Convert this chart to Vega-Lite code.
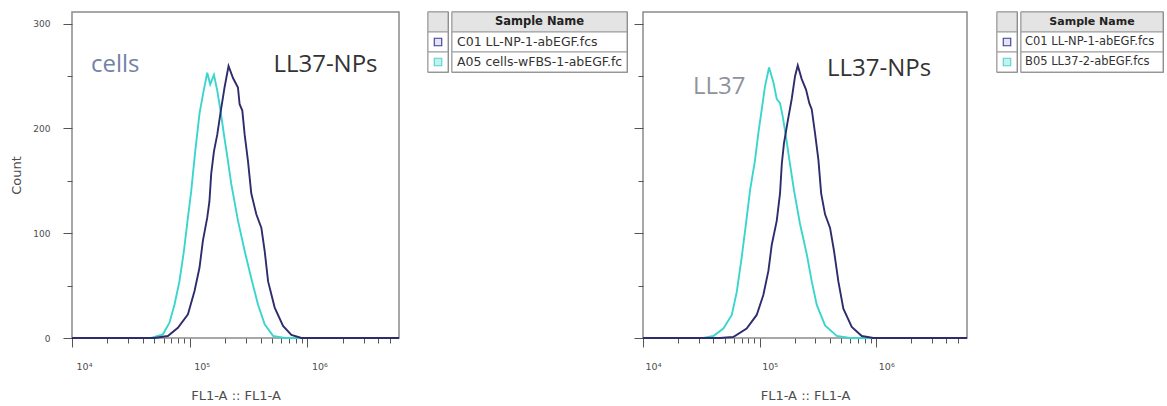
{
  "$schema": "https://vega.github.io/schema/vega-lite/v6.json",
  "padding": {"left": 10, "top": 10, "right": 2, "bottom": 2},
  "background": "white",
  "datasets": {
    "p1": [
      {"sample": "A05", "fl": 10000, "count": 0}, {"sample": "A05", "fl": 47000, "count": 0}, {"sample": "A05", "fl": 59200, "count": 3.5},
      {"sample": "A05", "fl": 67300, "count": 14.6}, {"sample": "A05", "fl": 74300, "count": 32}, {"sample": "A05", "fl": 81800, "count": 54},
      {"sample": "A05", "fl": 89300, "count": 83}, {"sample": "A05", "fl": 96600, "count": 115}, {"sample": "A05", "fl": 103000, "count": 140},
      {"sample": "A05", "fl": 106400, "count": 156}, {"sample": "A05", "fl": 111400, "count": 178}, {"sample": "A05", "fl": 117500, "count": 201},
      {"sample": "A05", "fl": 121100, "count": 214}, {"sample": "A05", "fl": 129400, "count": 232}, {"sample": "A05", "fl": 140900, "count": 253},
      {"sample": "A05", "fl": 149300, "count": 242}, {"sample": "A05", "fl": 160700, "count": 251}, {"sample": "A05", "fl": 171400, "count": 236},
      {"sample": "A05", "fl": 182800, "count": 217}, {"sample": "A05", "fl": 195400, "count": 194}, {"sample": "A05", "fl": 211300, "count": 169},
      {"sample": "A05", "fl": 225400, "count": 147}, {"sample": "A05", "fl": 233300, "count": 138}, {"sample": "A05", "fl": 257000, "count": 112},
      {"sample": "A05", "fl": 293100, "count": 83}, {"sample": "A05", "fl": 333400, "count": 57}, {"sample": "A05", "fl": 380200, "count": 32},
      {"sample": "A05", "fl": 433500, "count": 13}, {"sample": "A05", "fl": 510500, "count": 2}, {"sample": "A05", "fl": 641200, "count": 0},
      {"sample": "A05", "fl": 6000000, "count": 0},
      {"sample": "C01", "fl": 10000, "count": 0}, {"sample": "C01", "fl": 50100, "count": 0}, {"sample": "C01", "fl": 65200, "count": 1.9},
      {"sample": "C01", "fl": 79400, "count": 9.8}, {"sample": "C01", "fl": 96600, "count": 22.6}, {"sample": "C01", "fl": 109900, "count": 44.8},
      {"sample": "C01", "fl": 121100, "count": 67}, {"sample": "C01", "fl": 129400, "count": 92.6}, {"sample": "C01", "fl": 140900, "count": 114.8},
      {"sample": "C01", "fl": 147000, "count": 130}, {"sample": "C01", "fl": 152400, "count": 157}, {"sample": "C01", "fl": 160700, "count": 178},
      {"sample": "C01", "fl": 171400, "count": 194}, {"sample": "C01", "fl": 182800, "count": 215}, {"sample": "C01", "fl": 197700, "count": 239},
      {"sample": "C01", "fl": 213800, "count": 259.5}, {"sample": "C01", "fl": 233300, "count": 248}, {"sample": "C01", "fl": 257000, "count": 239},
      {"sample": "C01", "fl": 265500, "count": 223}, {"sample": "C01", "fl": 279900, "count": 217}, {"sample": "C01", "fl": 293100, "count": 194},
      {"sample": "C01", "fl": 312600, "count": 169}, {"sample": "C01", "fl": 333400, "count": 138}, {"sample": "C01", "fl": 368100, "count": 118},
      {"sample": "C01", "fl": 406400, "count": 105}, {"sample": "C01", "fl": 433500, "count": 83}, {"sample": "C01", "fl": 463400, "count": 54},
      {"sample": "C01", "fl": 527200, "count": 29}, {"sample": "C01", "fl": 620900, "count": 11.5}, {"sample": "C01", "fl": 731100, "count": 2.9},
      {"sample": "C01", "fl": 889200, "count": 0}, {"sample": "C01", "fl": 6000000, "count": 0}
    ],
    "p2": [
      {"sample": "B05", "fl": 10000, "count": 0}, {"sample": "B05", "fl": 32900, "count": 0}, {"sample": "B05", "fl": 40100, "count": 1.9},
      {"sample": "B05", "fl": 48900, "count": 9}, {"sample": "B05", "fl": 57700, "count": 22}, {"sample": "B05", "fl": 63700, "count": 44},
      {"sample": "B05", "fl": 70100, "count": 76.5}, {"sample": "B05", "fl": 76400, "count": 109}, {"sample": "B05", "fl": 82800, "count": 141},
      {"sample": "B05", "fl": 91400, "count": 170}, {"sample": "B05", "fl": 97500, "count": 195.5}, {"sample": "B05", "fl": 104300, "count": 218},
      {"sample": "B05", "fl": 111200, "count": 240}, {"sample": "B05", "fl": 120500, "count": 258}, {"sample": "B05", "fl": 131200, "count": 244},
      {"sample": "B05", "fl": 140300, "count": 228}, {"sample": "B05", "fl": 149600, "count": 224}, {"sample": "B05", "fl": 157800, "count": 211.5},
      {"sample": "B05", "fl": 168300, "count": 192}, {"sample": "B05", "fl": 179900, "count": 170}, {"sample": "B05", "fl": 197000, "count": 141},
      {"sample": "B05", "fl": 221800, "count": 109}, {"sample": "B05", "fl": 253500, "count": 80}, {"sample": "B05", "fl": 279900, "count": 54},
      {"sample": "B05", "fl": 309000, "count": 31.5}, {"sample": "B05", "fl": 363900, "count": 12}, {"sample": "B05", "fl": 458100, "count": 2},
      {"sample": "B05", "fl": 595700, "count": 0}, {"sample": "B05", "fl": 6000000, "count": 0},
      {"sample": "C01", "fl": 10000, "count": 0}, {"sample": "C01", "fl": 45700, "count": 0}, {"sample": "C01", "fl": 59400, "count": 1},
      {"sample": "C01", "fl": 77400, "count": 9}, {"sample": "C01", "fl": 94400, "count": 22}, {"sample": "C01", "fl": 107600, "count": 41},
      {"sample": "C01", "fl": 118900, "count": 64}, {"sample": "C01", "fl": 127100, "count": 89}, {"sample": "C01", "fl": 140300, "count": 112},
      {"sample": "C01", "fl": 149600, "count": 138}, {"sample": "C01", "fl": 154900, "count": 166}, {"sample": "C01", "fl": 161800, "count": 186},
      {"sample": "C01", "fl": 173000, "count": 205}, {"sample": "C01", "fl": 188400, "count": 228}, {"sample": "C01", "fl": 201400, "count": 250},
      {"sample": "C01", "fl": 212300, "count": 260}, {"sample": "C01", "fl": 229600, "count": 247}, {"sample": "C01", "fl": 250000, "count": 237},
      {"sample": "C01", "fl": 266700, "count": 224}, {"sample": "C01", "fl": 279900, "count": 218}, {"sample": "C01", "fl": 298500, "count": 195.5},
      {"sample": "C01", "fl": 319200, "count": 170}, {"sample": "C01", "fl": 337000, "count": 138}, {"sample": "C01", "fl": 363900, "count": 118},
      {"sample": "C01", "fl": 401800, "count": 105}, {"sample": "C01", "fl": 434500, "count": 83}, {"sample": "C01", "fl": 473200, "count": 54},
      {"sample": "C01", "fl": 522400, "count": 28}, {"sample": "C01", "fl": 616600, "count": 10.6}, {"sample": "C01", "fl": 751600, "count": 1.9},
      {"sample": "C01", "fl": 944100, "count": 0}, {"sample": "C01", "fl": 6000000, "count": 0}
    ],
    "a1": [
      {"label": "cells", "fl": 14500, "count": 260},
      {"label": "LL37-NPs", "fl": 514000, "count": 260}
    ],
    "a2": [
      {"label": "LL37", "fl": 26800, "count": 239},
      {"label": "LL37-NPs", "fl": 378000, "count": 257}
    ],
    "l1": [
      {"pos": 0, "kind": "header", "name": "Sample Name"},
      {"pos": 1, "kind": "C01", "name": "C01 LL-NP-1-abEGF.fcs"},
      {"pos": 2, "kind": "A05", "name": "A05 cells-wFBS-1-abEGF.fcs"}
    ],
    "l2": [
      {"pos": 0, "kind": "header", "name": "Sample Name"},
      {"pos": 1, "kind": "C01", "name": "C01 LL-NP-1-abEGF.fcs"},
      {"pos": 2, "kind": "B05", "name": "B05 LL37-2-abEGF.fcs"}
    ]
  },
  "config": {
    "axis": {
      "labelFont": "DejaVu Sans", "labelFontSize": 9, "labelColor": "#4d4d4d",
      "titleFont": "DejaVu Sans", "titleFontSize": 13, "titleFontWeight": "normal", "titleColor": "#4d4d4d",
      "tickColor": "#555555", "tickWidth": 1, "domain": false, "grid": false
    }
  },
  "spacing": 3,
  "hconcat": [
    {
      "spacing": 22,
      "hconcat": [
        {
          "width": 327, "height": 326,
          "view": {"stroke": "#8a8a8a", "strokeWidth": 1.5},
          "layer": [
            {
              "data": {"name": "p1"},
              "transform": [{"filter": "datum.sample == 'A05'"}],
              "mark": {"type": "line", "strokeWidth": 1.9, "color": "#3ad6cd"},
              "encoding": {
                "x": {"field": "fl", "type": "quantitative",
                  "scale": {"type": "log", "domain": [10000, 6000000], "nice": false},
                  "axis": {
                    "values": [10000, 20000, 30000, 40000, 50000, 60000, 70000, 80000, 90000, 100000, 200000, 300000, 400000, 500000, 600000, 700000, 800000, 900000, 1000000, 2000000, 3000000, 4000000, 5000000],
                    "labelExpr": "datum.value == 10000 ? '10⁴' : datum.value == 100000 ? '10⁵' : datum.value == 1000000 ? '10⁶' : ''",
                    "tickSize": {"condition": {"test": "datum.value == 10000 || datum.value == 100000 || datum.value == 1000000", "value": 9}, "value": 5},
                    "labelFontSize": 9.5,
                    "labelPadding": 14, "labelOffset": 12, "labelFlush": false, "labelOverlap": false, "labelBound": false,
                    "title": "FL1-A :: FL1-A", "titlePadding": 19
                  }},
                "y": {"field": "count", "type": "quantitative",
                  "scale": {"domain": [0, 311], "nice": false},
                  "axis": {
                    "values": [0, 25, 50, 75, 100, 125, 150, 175, 200, 225, 250, 275, 300],
                    "labelExpr": "datum.value % 100 == 0 ? datum.label : ''",
                    "tickSize": {"condition": {"test": "datum.value % 100 == 0", "value": 9}, "value": 5},
                    "labelPadding": 13, "labelOverlap": false,
                    "title": "Count", "titlePadding": 9
                  }}
              }
            },
            {
              "data": {"name": "p1"},
              "transform": [{"filter": "datum.sample == 'C01'"}],
              "mark": {"type": "line", "strokeWidth": 1.9, "color": "#2e2c6c"},
              "encoding": {
                "x": {"field": "fl", "type": "quantitative"},
                "y": {"field": "count", "type": "quantitative"}
              }
            },
            {
              "data": {"name": "a1"},
              "mark": {"type": "text", "align": "left", "baseline": "middle", "font": "Open Sans", "fontSize": 24},
              "encoding": {
                "x": {"field": "fl", "type": "quantitative"},
                "y": {"field": "count", "type": "quantitative"},
                "text": {"field": "label"},
                "fill": {"condition": {"test": "datum.label == 'cells'", "value": "#7282a6"}, "value": "#333333"}
              }
            }
          ]
        },
        {
          "spacing": 0,
          "hconcat": [
            {
              "width": 20, "height": 60,
              "data": {"name": "l1"},
              "view": {"stroke": "#6e6e6e", "strokeWidth": 1.3},
              "layer": [
                {
                  "mark": {"type": "rect", "stroke": "#9c9c9c", "strokeWidth": 1},
                  "encoding": {
                    "y": {"field": "pos", "type": "ordinal", "scale": {"paddingInner": 0, "paddingOuter": 0}, "axis": null},
                    "fill": {"condition": {"test": "datum.kind == 'header'", "value": "#e4e4e4"}, "value": "#ffffff"}
                  }
                },
                {
                  "transform": [{"filter": "datum.kind != 'header'"}],
                  "mark": {"type": "square", "size": 56, "opacity": 1, "strokeWidth": 1.1},
                  "encoding": {
                    "y": {"field": "pos", "type": "ordinal", "axis": null},
                    "fill": {"condition": {"test": "datum.kind == 'C01'", "value": "#e4e4f6"}, "value": "#bff3ef"},
                    "stroke": {"condition": {"test": "datum.kind == 'C01'", "value": "#3d3d90"}, "value": "#5ad0ca"}
                  }
                }
              ]
            },
            {
              "width": 175, "height": 60,
              "data": {"name": "l1"},
              "view": {"stroke": "#6e6e6e", "strokeWidth": 1.3},
              "layer": [
                {
                  "mark": {"type": "rect", "stroke": "#9c9c9c", "strokeWidth": 1},
                  "encoding": {
                    "y": {"field": "pos", "type": "ordinal", "scale": {"paddingInner": 0, "paddingOuter": 0}, "axis": null},
                    "fill": {"condition": {"test": "datum.kind == 'header'", "value": "#e4e4e4"}, "value": "#ffffff"}
                  }
                },
                {
                  "transform": [{"filter": "datum.kind == 'header'"}],
                  "mark": {"type": "text", "font": "DejaVu Sans", "fontSize": 11.5, "fontWeight": "bold", "color": "#222222", "baseline": "middle"},
                  "encoding": {
                    "y": {"field": "pos", "type": "ordinal", "axis": null},
                    "text": {"field": "name"}
                  }
                },
                {
                  "transform": [{"filter": "datum.kind != 'header'"}],
                  "mark": {"type": "text", "font": "DejaVu Sans", "fontSize": 12.5, "color": "#333333", "align": "left", "baseline": "middle", "dx": 5, "limit": 169, "ellipsis": "\u200b"},
                  "encoding": {
                    "x": {"datum": 0, "type": "quantitative", "scale": {"domain": [0, 1]}, "axis": null},
                    "y": {"field": "pos", "type": "ordinal", "axis": null},
                    "text": {"field": "name"}
                  }
                }
              ]
            }
          ]
        }
      ]
    },
    {
      "spacing": 23,
      "hconcat": [
        {
          "width": 324, "height": 326,
          "view": {"stroke": "#8a8a8a", "strokeWidth": 1.5},
          "layer": [
            {
              "data": {"name": "p2"},
              "transform": [{"filter": "datum.sample == 'B05'"}],
              "mark": {"type": "line", "strokeWidth": 1.9, "color": "#3ad6cd"},
              "encoding": {
                "x": {"field": "fl", "type": "quantitative",
                  "scale": {"type": "log", "domain": [10000, 6000000], "nice": false},
                  "axis": {
                    "values": [10000, 20000, 30000, 40000, 50000, 60000, 70000, 80000, 90000, 100000, 200000, 300000, 400000, 500000, 600000, 700000, 800000, 900000, 1000000, 2000000, 3000000, 4000000, 5000000],
                    "labelExpr": "datum.value == 10000 ? '10⁴' : datum.value == 100000 ? '10⁵' : datum.value == 1000000 ? '10⁶' : ''",
                    "tickSize": {"condition": {"test": "datum.value == 10000 || datum.value == 100000 || datum.value == 1000000", "value": 9}, "value": 5},
                    "labelFontSize": 9.5,
                    "labelPadding": 14, "labelOffset": 10, "labelFlush": false, "labelOverlap": false, "labelBound": false,
                    "title": "FL1-A :: FL1-A", "titlePadding": 19
                  }},
                "y": {"field": "count", "type": "quantitative",
                  "scale": {"domain": [0, 311], "nice": false},
                  "axis": {
                    "values": [0, 25, 50, 75, 100, 125, 150, 175, 200, 225, 250, 275, 300],
                    "labels": false,
                    "tickSize": {"condition": {"test": "datum.value % 100 == 0", "value": 9}, "value": 5},
                    "title": null
                  }}
              }
            },
            {
              "data": {"name": "p2"},
              "transform": [{"filter": "datum.sample == 'C01'"}],
              "mark": {"type": "line", "strokeWidth": 1.9, "color": "#2e2c6c"},
              "encoding": {
                "x": {"field": "fl", "type": "quantitative"},
                "y": {"field": "count", "type": "quantitative"}
              }
            },
            {
              "data": {"name": "a2"},
              "mark": {"type": "text", "align": "left", "baseline": "middle", "font": "Open Sans", "fontSize": 24},
              "encoding": {
                "x": {"field": "fl", "type": "quantitative"},
                "y": {"field": "count", "type": "quantitative"},
                "text": {"field": "label"},
                "fill": {"condition": {"test": "datum.label == 'LL37'", "value": "#8f929c"}, "value": "#333333"}
              }
            }
          ]
        },
        {
          "spacing": 0,
          "hconcat": [
            {
              "width": 20, "height": 60,
              "data": {"name": "l2"},
              "view": {"stroke": "#6e6e6e", "strokeWidth": 1.3},
              "layer": [
                {
                  "mark": {"type": "rect", "stroke": "#9c9c9c", "strokeWidth": 1},
                  "encoding": {
                    "y": {"field": "pos", "type": "ordinal", "scale": {"paddingInner": 0, "paddingOuter": 0}, "axis": null},
                    "fill": {"condition": {"test": "datum.kind == 'header'", "value": "#e4e4e4"}, "value": "#ffffff"}
                  }
                },
                {
                  "transform": [{"filter": "datum.kind != 'header'"}],
                  "mark": {"type": "square", "size": 56, "opacity": 1, "strokeWidth": 1.1},
                  "encoding": {
                    "y": {"field": "pos", "type": "ordinal", "axis": null},
                    "fill": {"condition": {"test": "datum.kind == 'C01'", "value": "#e4e4f6"}, "value": "#bff3ef"},
                    "stroke": {"condition": {"test": "datum.kind == 'C01'", "value": "#3d3d90"}, "value": "#5ad0ca"}
                  }
                }
              ]
            },
            {
              "width": 142, "height": 60,
              "data": {"name": "l2"},
              "view": {"stroke": "#6e6e6e", "strokeWidth": 1.3},
              "layer": [
                {
                  "mark": {"type": "rect", "stroke": "#9c9c9c", "strokeWidth": 1},
                  "encoding": {
                    "y": {"field": "pos", "type": "ordinal", "scale": {"paddingInner": 0, "paddingOuter": 0}, "axis": null},
                    "fill": {"condition": {"test": "datum.kind == 'header'", "value": "#e4e4e4"}, "value": "#ffffff"}
                  }
                },
                {
                  "transform": [{"filter": "datum.kind == 'header'"}],
                  "mark": {"type": "text", "font": "DejaVu Sans", "fontSize": 11, "fontWeight": "bold", "color": "#222222", "baseline": "middle"},
                  "encoding": {
                    "y": {"field": "pos", "type": "ordinal", "axis": null},
                    "text": {"field": "name"}
                  }
                },
                {
                  "transform": [{"filter": "datum.kind != 'header'"}],
                  "mark": {"type": "text", "font": "DejaVu Sans", "fontSize": 11.5, "color": "#333333", "align": "left", "baseline": "middle", "dx": 4, "limit": 137, "ellipsis": "\u200b"},
                  "encoding": {
                    "x": {"datum": 0, "type": "quantitative", "scale": {"domain": [0, 1]}, "axis": null},
                    "y": {"field": "pos", "type": "ordinal", "axis": null},
                    "text": {"field": "name"}
                  }
                }
              ]
            }
          ]
        }
      ]
    }
  ]
}
